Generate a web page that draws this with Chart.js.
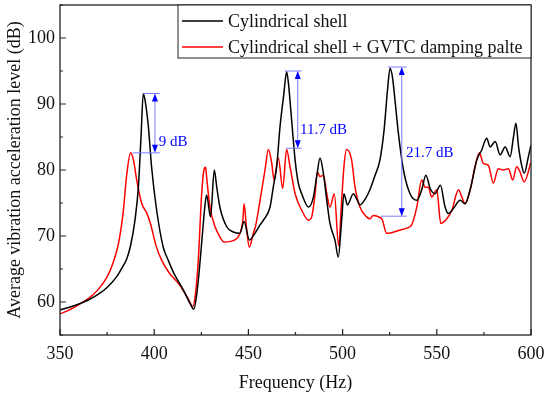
<!DOCTYPE html>
<html>
<head>
<meta charset="utf-8">
<script src="https://cdn.jsdelivr.net/npm/chart.js@4"></script>
<style>
  html, body { margin: 0; padding: 0; background: #fff; }
  #wrap { width: 550px; height: 396px; }
</style>
</head>
<body>
<div id="wrap"><canvas id="chart" width="550" height="396"></canvas></div>
<script>
// Curve data
const freqShell = [350, 355, 360, 365, 370, 375, 380, 383, 385.5, 387.5, 389.8, 391.6, 393, 394.2, 395.3, 396.9, 398.6, 401.3, 404.8, 407.5,
  410.2, 415.5, 419, 421, 422.5, 424, 425.5, 427, 427.8, 429.9, 431.9, 433.2, 435, 438.5, 442, 445.5, 447.7, 450.5, 453, 456,
  458, 461.5, 463.2, 465, 466.8, 468.8, 470.3, 471.3, 472.5, 474.8, 476.5, 478.3, 481.9, 484.5, 486.5, 488, 489.8, 491.6, 493.3, 496,
  497.7, 499.5, 500.7, 502.6, 505.7, 507.5, 509.2, 512, 514.5, 517, 519.8, 522, 523.8, 525.2, 526.5, 527.8, 529.6, 532.3, 535.8, 539.4,
  542, 544.2, 546.5, 549, 551.9, 554.4, 556.2, 558.9, 562.4, 565, 567.7, 571.2, 573.8, 576.5, 578.3, 581, 583.6, 586.3, 588.9, 590.7,
  592, 593.4, 595.2, 596.4, 598.6, 600];
const levelShell = [58.8, 59.2, 59.7, 60.3, 61.1, 62.2, 63.8, 65.2, 66.6, 68.6, 72.4, 77.4, 85.0, 91.6, 90.3, 86.6, 80.5, 73.9, 68.3, 66.3,
  64.5, 61.8, 59.8, 58.9, 61.0, 65.0, 70.0, 74.8, 76.2, 72.9, 80.0, 77.4, 74.2, 71.4, 70.6, 70.4, 72.2, 69.4, 70.2, 71.6,
  72.4, 74.4, 77.4, 80.5, 86.6, 91.5, 94.9, 93.0, 89.1, 81.5, 78.0, 76.4, 74.4, 75.9, 79.5, 81.8, 79.5, 75.4, 71.9, 69.3,
  66.8, 72.4, 76.4, 74.7, 76.4, 75.6, 74.7, 75.6, 77.0, 79.0, 81.5, 86.0, 92.0, 95.4, 94.0, 90.6, 85.6, 80.0, 76.4, 75.4,
  77.0, 79.2, 77.2, 76.4, 77.7, 74.4, 73.4, 74.2, 75.4, 74.9, 77.0, 81.5, 83.0, 84.8, 83.5, 84.3, 82.3, 83.5, 82.0, 85.0,
  87.1, 83.5, 80.5, 79.5, 82.0, 83.8];

const freqDamped = [350, 355, 360, 365, 370, 375, 378, 381, 383.5, 385.5, 387.5, 389, 390.7, 393.3, 396, 398, 401, 404, 408, 413.7,
  418, 420.5, 422, 423.4, 425.2, 426.4, 427.3, 427.8, 429.6, 432.3, 435, 437, 442, 445.5, 447.1, 447.7, 449.1, 450.5, 452.6, 453.8,
  456.2, 458.8, 460.6, 462.4, 463.6, 465.9, 468.2, 470.3, 472.1, 474.8, 478.3, 481.9, 483.6, 485.4, 486.6, 488, 489.8, 491.6, 493.3, 495.6,
  497.9, 499.5, 500.7, 502.1, 504.8, 506.6, 509.2, 512.8, 514.5, 516.3, 519.8, 521, 523.4, 526, 530.5, 534, 536.7, 539.4, 542, 543.8,
  545.5, 547.3, 550, 552.1, 555.3, 558, 561.5, 563.3, 565, 567.7, 570.3, 572.6, 574.7, 577.4, 580, 582.6, 585.3, 588, 590.3, 592.4,
  594.2, 596.4, 600];
const levelDamped = [58.2, 58.8, 59.6, 60.5, 61.8, 63.8, 65.8, 68.8, 73.5, 79.5, 82.6, 81.5, 78.5, 75.0, 73.5, 71.9, 68.5, 66.3, 64.4, 62.5,
  60.5, 59.3, 61.5, 66.3, 76.4, 80.0, 80.4, 79.0, 74.4, 71.4, 69.8, 69.1, 69.3, 70.4, 72.5, 74.9, 70.9, 68.3, 70.4, 71.5,
  75.4, 80.0, 83.1, 81.0, 78.5, 81.8, 77.2, 83.1, 80.5, 76.4, 73.9, 72.4, 72.9, 76.4, 79.7, 79.0, 79.2, 76.4, 74.4, 76.4,
  68.5, 75.4, 80.5, 83.1, 81.5, 77.4, 74.4, 72.9, 72.6, 73.1, 72.8, 72.5, 70.4, 70.5, 70.9, 71.2, 71.7, 74.4, 78.5, 77.4,
  77.4, 75.9, 77.0, 71.9, 72.6, 73.9, 77.0, 75.9, 74.9, 77.0, 80.5, 82.6, 81.0, 80.7, 78.0, 80.2, 80.0, 80.2, 78.5, 80.5,
  79.7, 78.2, 81.2];

const xTicks = [350, 400, 450, 500, 550, 600];
const yTicks = [60, 70, 80, 90, 100];

// Peak reduction marks: arrow frequency, upper and lower level, label
const markFreq = [400.4, 476.2, 531.4];
const markHigh = [91.6, 95.0, 95.6];
const markLow = [82.6, 83.3, 73.0];
const markHighFrom = [393.9, 469.4, 524.0];
const markLowFrom = [388.6, 470.0, 520.2];
const markTo = [403.0, 478.3, 534.0];
const markText = ['9 dB', '11.7 dB', '21.7 dB'];
const markTextFreq = [402.4, 477.4, 533.6];
const markTextLevel = [84.3, 86.0, 82.6];

const serif = "'Liberation Serif', 'Times New Roman', serif";
Chart.defaults.font.family = serif;
Chart.defaults.color = '#111';

function toPoints(xs, ys) {
  return xs.map((x, i) => ({ x: x, y: ys[i] }));
}

// frame, inward ticks, legend box and dB marks
const decor = {
  id: 'decor',
  afterDatasetsDraw(chart) {
    const ctx = chart.ctx;
    const a = chart.chartArea;
    const xs = chart.scales.x, ys = chart.scales.y;
    ctx.save();

    // dB marks
    for (let i = 0; i < markFreq.length; i++) {
      const px = xs.getPixelForValue(markFreq[i]);
      const yh = ys.getPixelForValue(markHigh[i]);
      const yl = ys.getPixelForValue(markLow[i]);
      ctx.strokeStyle = '#7b7bff';
      ctx.lineWidth = 1;
      ctx.beginPath();
      ctx.moveTo(xs.getPixelForValue(markHighFrom[i]), yh);
      ctx.lineTo(xs.getPixelForValue(markTo[i]), yh);
      ctx.moveTo(xs.getPixelForValue(markLowFrom[i]), yl);
      ctx.lineTo(xs.getPixelForValue(markTo[i]), yl);
      ctx.moveTo(px, yh + 6);
      ctx.lineTo(px, yl - 6);
      ctx.stroke();
      ctx.fillStyle = '#0000ff';
      ctx.beginPath();
      ctx.moveTo(px, yh); ctx.lineTo(px - 3, yh + 8); ctx.lineTo(px + 3, yh + 8); ctx.closePath();
      ctx.moveTo(px, yl); ctx.lineTo(px - 3, yl - 8); ctx.lineTo(px + 3, yl - 8); ctx.closePath();
      ctx.fill();
      ctx.font = '15px ' + serif;
      ctx.textAlign = 'left';
      ctx.textBaseline = 'middle';
      ctx.fillText(markText[i], xs.getPixelForValue(markTextFreq[i]), ys.getPixelForValue(markTextLevel[i]));
    }

    // frame
    ctx.strokeStyle = '#222';
    ctx.lineWidth = 1.3;
    ctx.strokeRect(a.left, a.top, a.right - a.left, a.bottom - a.top);

    // inward ticks
    ctx.lineWidth = 1.2;
    ctx.beginPath();
    for (let v = 350; v <= 600; v += 25) {
      const px = xs.getPixelForValue(v);
      const len = v % 50 === 0 ? 6 : 3;
      ctx.moveTo(px, a.bottom);
      ctx.lineTo(px, a.bottom - len);
    }
    for (let v = 55; v <= 105; v += 5) {
      const py = ys.getPixelForValue(v);
      const len = v % 10 === 0 ? 6 : 3;
      ctx.moveTo(a.left, py);
      ctx.lineTo(a.left + len, py);
    }
    ctx.stroke();

    // legend box
    const bx = 178, by = a.top;
    ctx.fillStyle = '#fff';
    ctx.fillRect(bx, by, a.right - bx, 53);
    ctx.lineWidth = 1;
    ctx.strokeRect(bx, by, a.right - bx, 53);
    ctx.font = '18px ' + serif;
    ctx.textAlign = 'left';
    ctx.textBaseline = 'middle';
    chart.data.datasets.forEach((ds, i) => {
      const ly = by + 16 + i * 26;
      ctx.strokeStyle = ds.borderColor;
      ctx.lineWidth = 1.5;
      ctx.beginPath();
      ctx.moveTo(bx + 4, ly);
      ctx.lineTo(bx + 45, ly);
      ctx.stroke();
      ctx.fillStyle = '#111';
      ctx.fillText(ds.label, bx + 50, ly + 1);
    });
    ctx.restore();
  }
};

new Chart(document.getElementById('chart').getContext('2d'), {
  type: 'line',
  data: {
    datasets: [{
      label: 'Cylindrical shell',
      data: toPoints(freqShell, levelShell),
      borderColor: '#000000',
      borderWidth: 1.5,
      pointRadius: 0,
      cubicInterpolationMode: 'monotone'
    }, {
      label: 'Cylindrical shell + GVTC damping palte',
      data: toPoints(freqDamped, levelDamped),
      borderColor: '#ff0000',
      borderWidth: 1.5,
      pointRadius: 0,
      cubicInterpolationMode: 'monotone'
    }]
  },
  options: {
    responsive: false,
    animation: false,
    layout: { padding: { top: 5, right: 19, left: 0, bottom: 0 } },
    plugins: { legend: { display: false }, tooltip: { enabled: false } },
    scales: {
      x: {
        type: 'linear',
        min: 350, max: 600,
        afterFit: s => { s.height = 61; s.paddingLeft = 0; s.paddingRight = 0; },
        afterBuildTicks: s => { s.ticks = xTicks.map(v => ({ value: v })); },
        grid: { display: false, drawTicks: false },
        border: { display: false },
        ticks: { font: { size: 18 }, padding: 8, maxRotation: 0 },
        title: { display: true, text: 'Frequency (Hz)', font: { size: 18 }, padding: { top: 0, bottom: 2 } }
      },
      y: {
        min: 55, max: 105,
        afterFit: s => { s.width = 60; s.paddingTop = 0; s.paddingBottom = 0; },
        afterBuildTicks: s => { s.ticks = yTicks.map(v => ({ value: v })); },
        grid: { display: false, drawTicks: false },
        border: { display: false },
        ticks: { font: { size: 18 }, padding: 5 },
        title: { display: true, text: 'Average vibration acceleration level (dB)', font: { size: 18 }, padding: { top: 4, bottom: 0 } }
      }
    }
  },
  plugins: [decor]
});
</script>
</body>
</html>
